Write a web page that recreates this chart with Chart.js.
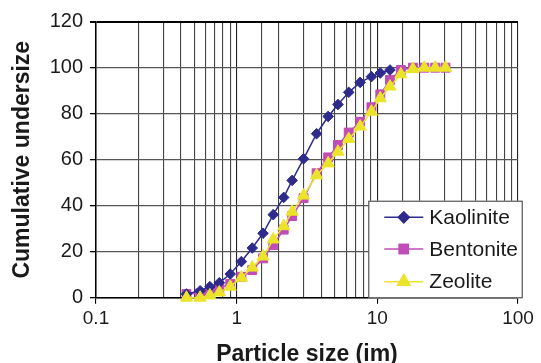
<!DOCTYPE html>
<html>
<head>
<meta charset="utf-8">
<script src="https://cdn.jsdelivr.net/npm/chart.js@4/dist/chart.umd.min.js"></script>
<style>
html,body{margin:0;padding:0;background:#fff;}
#wrap{position:relative;width:541px;height:363px;}
canvas{display:block;}
</style>
</head>
<body>
<div id="wrap"><canvas id="c" width="541" height="363"></canvas></div>
<script>
// Particle sizes (µm) shared by all series
const sizes = [0.44, 0.55, 0.645, 0.753, 0.90, 1.08, 1.29, 1.54, 1.82, 2.16, 2.48, 2.99, 3.70, 4.47, 5.25, 6.26, 7.55, 9.08, 10.5, 12.3, 14.7, 17.9, 21.6, 25.8, 30.5];
const kaolinite = [1.6, 3.0, 4.8, 6.5, 10.3, 15.7, 21.6, 28.0, 36.1, 43.6, 51.0, 60.4, 71.3, 78.8, 84.0, 89.3, 93.6, 96.1, 97.7, 99.0];
const bentonite = [1.6, 1.9, 2.2, 4.1, 6.0, 9.1, 12.0, 17.1, 22.9, 29.6, 35.5, 43.3, 54.1, 61.0, 66.4, 71.8, 76.5, 82.8, 88.4, 94.7, 99.0, 100, 100, 100, 100];
const zeolite = [0, 0, 1.0, 2.3, 4.8, 8.7, 13.1, 17.9, 25.3, 31.1, 37.4, 44.4, 53.2, 58.4, 63.5, 69.0, 74.4, 80.9, 86.7, 91.8, 97.1, 99.4, 100, 100, 100];
const seriesNames = ['Kaolinite', 'Bentonite', 'Zeolite'];
const xTickValues = [0.1, 1, 10, 100];
const yTickValues = [0, 20, 40, 60, 80, 100, 120];

const FONT = '"Liberation Sans", Arial, Helvetica, sans-serif';
const colors = ['#2e2b8c', '#c04cb8', '#ece42a'];
const styles = [
  {pointStyle: 'rectRot', radius: 5.3},
  {pointStyle: 'rect', radius: 6.3},
  {pointStyle: 'triangle', radius: 7}
];
const values = [kaolinite, bentonite, zeolite];

function pts(arr) { return arr.map((v, i) => ({x: sizes[i], y: v})); }

const datasets = values.map((arr, i) => ({
  label: seriesNames[i],
  data: pts(arr),
  borderColor: colors[i],
  backgroundColor: colors[i],
  borderWidth: 1.5,
  pointStyle: styles[i].pointStyle,
  pointRadius: styles[i].radius,
  pointBorderWidth: 1,
  pointBorderColor: colors[i],
  pointBackgroundColor: colors[i],
  tension: 0,
  clip: false,
  order: [1, 2, 0][i]
}));

function isDecade(v) {
  const l = Math.log10(v);
  return Math.abs(l - Math.round(l)) < 1e-6;
}

const legendPlugin = {
  id: 'boxLegend',
  afterDraw(chart) {
    const ctx = chart.ctx;
    const ca = chart.chartArea;
    const left = ca.right - 149.7, right = ca.right + 4.7;
    const top = ca.bottom - 97, bottom = ca.bottom + 0.6;
    ctx.save();
    ctx.fillStyle = '#fff';
    ctx.fillRect(left, top, right - left, bottom - top);
    ctx.strokeStyle = '#333';
    ctx.lineWidth = 1;
    ctx.strokeRect(left + 0.5, top + 0.5, right - left - 1, bottom - top - 1);
    const rows = [top + 16.6, top + 48.3, top + 81];
    seriesNames.forEach((name, i) => {
      const y = rows[i];
      ctx.strokeStyle = colors[i];
      ctx.lineWidth = 1.5;
      ctx.beginPath();
      ctx.moveTo(left + 16, y);
      ctx.lineTo(left + 55, y);
      ctx.stroke();
      Chart.helpers.drawPoint(ctx, {
        pointStyle: styles[i].pointStyle,
        radius: styles[i].radius,
        rotation: 0,
        borderWidth: 1
      }, left + 35.5, y);
      ctx.fillStyle = colors[i];
      ctx.strokeStyle = colors[i];
      ctx.fill();
      ctx.stroke();
      ctx.fillStyle = '#1a1a1a';
      ctx.font = '21px ' + FONT;
      ctx.textBaseline = 'middle';
      ctx.textAlign = 'left';
      ctx.fillText(name, left + 61, y + 1);
    });
    ctx.restore();
  }
};

new Chart(document.getElementById('c'), {
  type: 'line',
  data: {datasets},
  plugins: [legendPlugin],
  options: {
    responsive: false,
    animation: false,
    devicePixelRatio: 1,
    layout: {padding: {top: 21.7, right: 23, left: 0, bottom: 0}},
    plugins: {legend: {display: false}, tooltip: {enabled: false}},
    scales: {
      x: {
        type: 'logarithmic',
        min: 0.1,
        max: 100,
        afterFit(s) { s.height = 65.3; },
        ticks: {
          autoSkip: false,
          maxRotation: 0,
          padding: 4,
          color: '#1a1a1a',
          font: {family: FONT, size: 19},
          callback(v) { return isDecade(v) ? String(xTickValues.find(t => Math.abs(t - v) < 1e-6 * t) ?? v) : ''; }
        },
        grid: {
          color: ctx => (ctx.tick && isDecade(ctx.tick.value)) ? '#222' : '#444',
          lineWidth: 1.1,
          tickLength: 6,
          tickColor: ctx => (ctx.tick && isDecade(ctx.tick.value)) ? '#000' : 'rgba(0,0,0,0)'
        },
        border: {color: '#000', width: 1.5},
        title: {
          display: true,
          text: 'Particle size (im)',
          color: '#1a1a1a',
          font: {family: FONT, size: 23, weight: 'bold', lineHeight: 0.75},
          padding: {top: 0, bottom: 0}
        }
      },
      y: {
        min: 0,
        max: 120,
        afterFit(s) { s.width = 96; },
        afterBuildTicks(s) { s.ticks = yTickValues.map(v => ({value: v})); },
        ticks: {
          padding: 7,
          color: '#1a1a1a',
          font: {family: FONT, size: 20}
        },
        grid: {
          color: ctx => (ctx.tick && ctx.tick.value === 120) ? '#000' : '#555',
          lineWidth: ctx => (ctx.tick && ctx.tick.value === 120) ? 2 : 1.3,
          tickLength: 6,
          tickColor: '#000'
        },
        border: {color: '#000', width: 1.5},
        title: {
          display: true,
          text: 'Cumulative undersize',
          color: '#1a1a1a',
          font: {family: FONT, size: 23, weight: 'bold', lineHeight: 1.2},
          padding: {top: 9, bottom: 0}
        }
      }
    }
  }
});
</script>
</body>
</html>
